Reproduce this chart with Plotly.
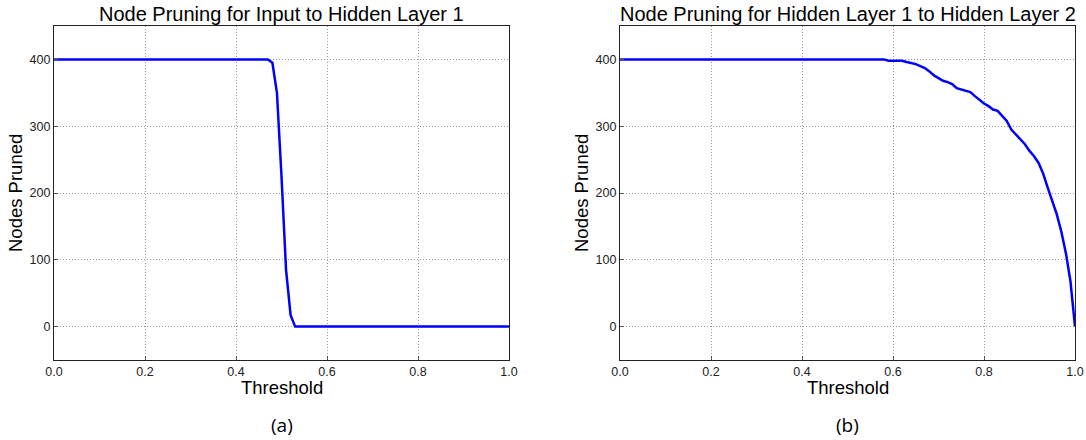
import plotly.graph_objects as go

# Thresholds and pruned-node counts, input -> hidden layer 1
thresh_a = [0.0, 0.47, 0.48, 0.49, 0.50, 0.51, 0.52, 0.53, 1.0]
pruned_a = [400, 400, 395, 350, 225, 85, 17, 0, 0]

# Thresholds and pruned-node counts, hidden layer 1 -> hidden layer 2
thresh_b = [0.0, 0.58, 0.59, 0.60, 0.61, 0.62, 0.63, 0.64, 0.65, 0.66, 0.67,
            0.68, 0.69, 0.70, 0.71, 0.72, 0.73, 0.74, 0.75, 0.76, 0.77, 0.78,
            0.79, 0.80, 0.81, 0.82, 0.83, 0.84, 0.85, 0.86, 0.87, 0.88, 0.89,
            0.90, 0.91, 0.92, 0.93, 0.94, 0.95, 0.96, 0.97, 0.98, 0.99, 0.995,
            1.0]
pruned_b = [400, 400, 398, 398, 398, 398, 396, 395, 393, 390, 387,
            382, 376, 372, 368, 366, 363, 357, 355, 354, 351, 345,
            339, 334, 330, 325, 323, 316, 308, 295, 288, 281, 273,
            263, 255, 245, 229, 208, 187, 168, 142, 110, 68, 33,
            0]

titles = ["Node Pruning for Input to Hidden Layer 1",
          "Node Pruning for Hidden Layer 1 to Hidden Layer 2"]
captions = ["(a)", "(b)"]
x_ticks = [0.0, 0.2, 0.4, 0.6, 0.8, 1.0]
x_tick_text = ["0.0", "0.2", "0.4", "0.6", "0.8", "1.0"]
y_ticks = [0, 100, 200, 300, 400]

W, H = 1086, 440
panels = [(54, 509), (620, 1075)]
top_px, bottom_px = 26, 360

fig = go.Figure()
fig.add_trace(go.Scatter(x=thresh_a, y=pruned_a, mode="lines",
                         line=dict(color="#0000ff", width=2.5),
                         xaxis="x", yaxis="y", showlegend=False))
fig.add_trace(go.Scatter(x=thresh_b, y=pruned_b, mode="lines",
                         line=dict(color="#0000ff", width=2.5),
                         xaxis="x2", yaxis="y2", showlegend=False))

font_main = "Liberation Sans, Arial, sans-serif"
axis_common = dict(
    showline=True, linecolor="#222", linewidth=1.2, mirror=True,
    showgrid=True, gridcolor="#9a9a9a", griddash="1px,2px", gridwidth=1,
    zeroline=False, ticks="inside", ticklen=4, tickcolor="#555",
    tickfont=dict(family=font_main, size=12.5, color="#222"),
    automargin=False,
)

layout = dict(
    width=W, height=H,
    margin=dict(l=0, r=0, t=0, b=0, pad=0, autoexpand=False),
    paper_bgcolor="white", plot_bgcolor="white",
    showlegend=False,
    annotations=[],
)

for i, (x0, x1) in enumerate(panels):
    sfx = "" if i == 0 else str(i + 1)
    layout["xaxis" + sfx] = dict(
        axis_common, domain=[x0 / W, x1 / W], range=[0, 1],
        tickvals=x_ticks, ticktext=x_tick_text,
        anchor="y" + sfx,
    )
    layout["yaxis" + sfx] = dict(
        axis_common, domain=[1 - bottom_px / H, 1 - top_px / H],
        range=[-50, 450], tickvals=y_ticks, anchor="x" + sfx,
    )
    cx = (x0 + x1) / 2 / W
    layout["annotations"] += [
        dict(text=titles[i], x=cx, y=1 - 14 / H, xref="paper", yref="paper",
             showarrow=False, xanchor="center", yanchor="middle",
             font=dict(family=font_main, size=20, color="#000")),
        dict(text="Threshold", x=cx, y=1 - 387 / H, xref="paper", yref="paper",
             showarrow=False, xanchor="center", yanchor="middle",
             font=dict(family=font_main, size=18.5, color="#000")),
        dict(text="Nodes Pruned", x=(x0 - 39) / W, y=1 - 193 / H,
             xref="paper", yref="paper", textangle=-90,
             showarrow=False, xanchor="center", yanchor="middle",
             font=dict(family=font_main, size=18.5, color="#000")),
        dict(text=captions[i], x=cx, y=1 - 425 / H, xref="paper", yref="paper",
             showarrow=False, xanchor="center", yanchor="middle",
             font=dict(family="Open Sans, sans-serif", size=19, color="#000")),
    ]

fig.update_layout(**layout)
fig.write_html("out.html")
